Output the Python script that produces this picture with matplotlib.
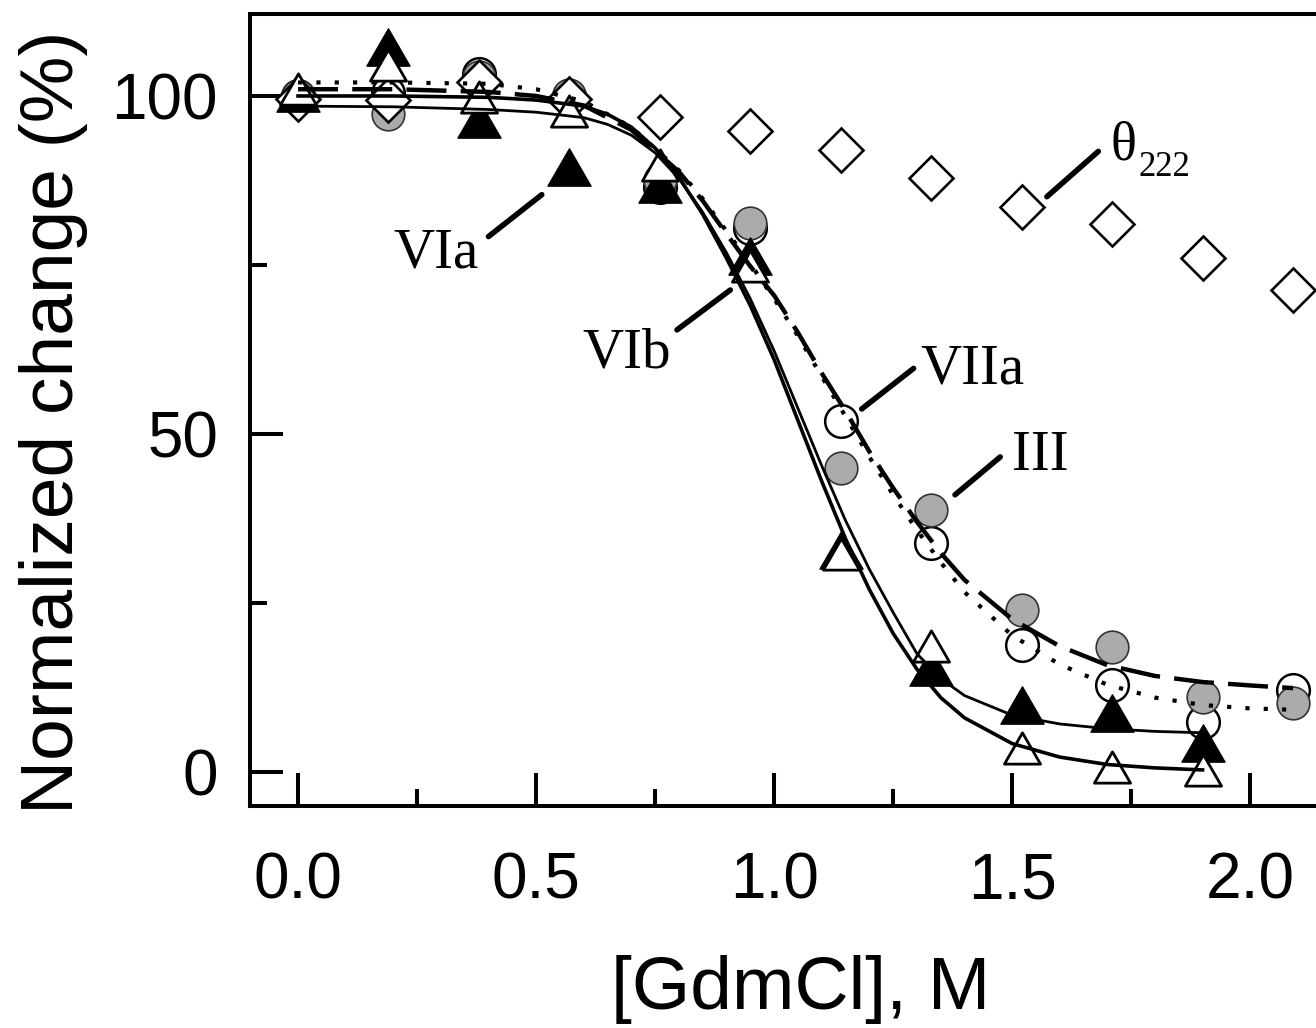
#!/usr/bin/env python3
"""GdmCl unfolding curves: normalized change of bands III, VIa, VIb, VIIa and theta222."""

import matplotlib
matplotlib.use("Agg")
import matplotlib.pyplot as plt
from matplotlib.markers import MarkerStyle
from matplotlib.path import Path


# denaturant concentrations of the measured points (M)
conc = [0.0, 0.19, 0.38, 0.57, 0.76, 0.95, 1.14, 1.33, 1.52, 1.71, 1.90, 2.09]
conc_tri = conc[:11]

# measured points (%)
theta222 = [99.5, 99.4, 102.0, 99.5, 96.9, 94.8, 92.0, 87.9, 83.6, 81.1, 76.0, 71.3]
band_VIIa = [100.0, 100.5, 103.2, 100.0, 86.5, 80.5, 51.9, 33.9, 18.8, 12.9, 7.4, 12.1]
band_III = [100.0, 97.3, 102.8, 100.2, 87.5, 81.2, 45.0, 38.8, 24.0, 18.5, 11.1, 10.2]
band_VIa = [100.5, 107.2, 96.6, 89.5, 87.0, 76.3, 32.8, 15.5, 9.9, 8.7, 4.3]
band_VIb = [101.0, 104.6, 99.9, 97.8, 89.8, 74.8, 32.2, 18.6, 3.5, 0.7, 0.3]

# fitted curves
fit_x_tri = [0.0, 0.2, 0.4, 0.5, 0.6, 0.65, 0.7, 0.75, 0.8, 0.85, 0.9, 0.95, 1.0,
             1.05, 1.1, 1.15, 1.2, 1.25, 1.3, 1.35, 1.4, 1.5, 1.6, 1.7, 1.8, 1.9]
fit_VIb = [100.0, 100.0, 99.8, 99.4, 98.5, 97.3, 95.4, 92.3, 88.0, 82.5, 76.0, 69.0, 61.0,
           52.0, 43.0, 34.5, 27.0, 20.5, 15.2, 11.0, 8.0, 4.2, 2.2, 1.1, 0.6, 0.3]
fit_VIa = [98.5, 98.4, 98.0, 97.6, 96.8, 95.8, 94.2, 91.6, 87.8, 82.8, 76.8, 70.0, 62.3,
           53.8, 45.3, 37.2, 30.0, 23.6, 17.5, 13.8, 11.3, 8.4, 7.1, 6.4, 6.0, 5.8]
fit_x_circ = [0.0, 0.2, 0.4, 0.5, 0.6, 0.7, 0.8, 0.85, 0.9, 0.95, 1.0, 1.05, 1.1,
              1.15, 1.2, 1.25, 1.3, 1.35, 1.4, 1.5, 1.6, 1.7, 1.8, 1.9, 2.0, 2.09]
fit_III = [101.0, 101.0, 100.6, 100.0, 98.6, 95.0, 88.8, 84.5, 79.6, 74.8, 70.5, 65.0, 59.0,
           53.4, 47.4, 42.0, 37.0, 32.4, 28.4, 22.6, 18.6, 15.8, 14.2, 13.3, 12.8, 12.4]
fit_VIIa = [102.0, 102.0, 101.8, 101.0, 99.2, 95.4, 89.0, 84.8, 80.0, 75.2, 70.0, 64.5, 58.5,
            52.6, 46.6, 41.0, 35.8, 31.0, 26.6, 20.2, 15.9, 12.9, 11.0, 9.9, 9.4, 9.2]

# labels: (text, text x, text baseline y, leader start, leader end)
LABELS = [
    ("VIa", 0.200, 74.6, (0.400, 79.2), (0.512, 85.4)),
    ("VIb", 0.597, 59.9, (0.796, 65.4), (0.908, 71.3)),
    ("VIIa", 1.307, 57.5, (1.184, 53.7), (1.293, 59.7)),
    ("III", 1.500, 44.7, (1.380, 41.0), (1.475, 46.6)),
]

SERIF = "Liberation Serif"
plt.rcParams["font.family"] = ["Liberation Sans", "DejaVu Sans"]


def triangle_marker():
    verts = [(0.0, 0.866), (-1.0, -0.866), (1.0, -0.866), (0.0, 0.866)]
    codes = [Path.MOVETO, Path.LINETO, Path.LINETO, Path.CLOSEPOLY]
    return MarkerStyle(Path(verts, codes), joinstyle="miter")


def main():
    fig = plt.figure(figsize=(13.16, 10.28), dpi=100)
    ax = fig.add_axes([0.19, 0.216, 0.8374, 0.7704])

    tri = triangle_marker()

    ax.plot(conc, band_VIIa, ls="none", marker="o", ms=23.5, mfc="white",
            mec="black", mew=1.8, zorder=3)
    ax.plot(conc, band_III, ls="none", marker="o", ms=23.5, mfc="#ababab",
            mec="#333333", mew=1.2, zorder=4)
    ax.plot(conc, theta222, ls="none", marker="D", ms=22.5, mfc="white",
            mec="black", mew=1.9, zorder=5)
    ax.plot(conc_tri, band_VIa, ls="none", marker=tri, ms=31, mfc="black",
            mec="black", mew=1.0, zorder=6)
    ax.plot(conc_tri, band_VIb, ls="none", marker=tri, ms=26, mfc="white",
            mec="black", mew=2.0, zorder=7)

    ax.plot(fit_x_tri, fit_VIb, color="black", lw=2.6, zorder=8)
    ax.plot(fit_x_tri, fit_VIa, color="black", lw=2.0, zorder=8)
    ax.plot(fit_x_circ, fit_III, color="black", lw=3.2, ls=(0, (9, 3.2)), zorder=8)
    ax.plot(fit_x_circ, fit_VIIa, color="black", lw=3.0, ls=(0, (1, 3.4)), zorder=8)

    for text, tx, ty, p0, p1 in LABELS:
        ax.plot([p0[0], p1[0]], [p0[1], p1[1]], color="black", lw=4,
                solid_capstyle="round", zorder=9)
        ax.text(tx, ty, text, family=SERIF, fontsize=41, ha="left", va="baseline", zorder=9)

    ax.plot([1.573, 1.681], [85.1, 91.8], color="black", lw=4,
            solid_capstyle="round", zorder=9)
    ax.text(1.706, 90.6, "\u03b8", family=SERIF, fontsize=39, ha="left", va="baseline")
    ax.text(1.765, 88.2, "222", family=SERIF, fontsize=25, ha="left", va="baseline")

    ax.set_xlim(-0.1008, 2.214)
    ax.set_ylim(-5.03, 112.13)

    ax.set_xticks([0.0, 0.5, 1.0, 1.5, 2.0])
    ax.set_xticklabels(["0.0", "0.5", "1.0", "1.5", "2.0"])
    ax.set_xticks([0.25, 0.75, 1.25, 1.75], minor=True)
    ax.set_yticks([0, 50, 100])
    ax.set_yticks([25, 75], minor=True)

    ax.tick_params(which="both", direction="in", width=2.9, top=False, right=False)
    ax.tick_params(which="major", length=24, labelsize=46)
    ax.tick_params(axis="x", which="major", pad=33)
    ax.tick_params(axis="y", which="major", pad=23)
    ax.tick_params(which="minor", length=12)

    for side in ("left", "bottom", "top", "right"):
        ax.spines[side].set_linewidth(2.9)

    ax.set_xlabel("[GdmCl], M", fontsize=54)
    ax.set_ylabel("Normalized change (%)", fontsize=54)
    ax.xaxis.set_label_coords(0.5, -0.188)
    ax.yaxis.set_label_coords(-0.147, 0.485)

    fig.savefig("out.png", dpi=100)
    plt.close(fig)


if __name__ == "__main__":
    main()
